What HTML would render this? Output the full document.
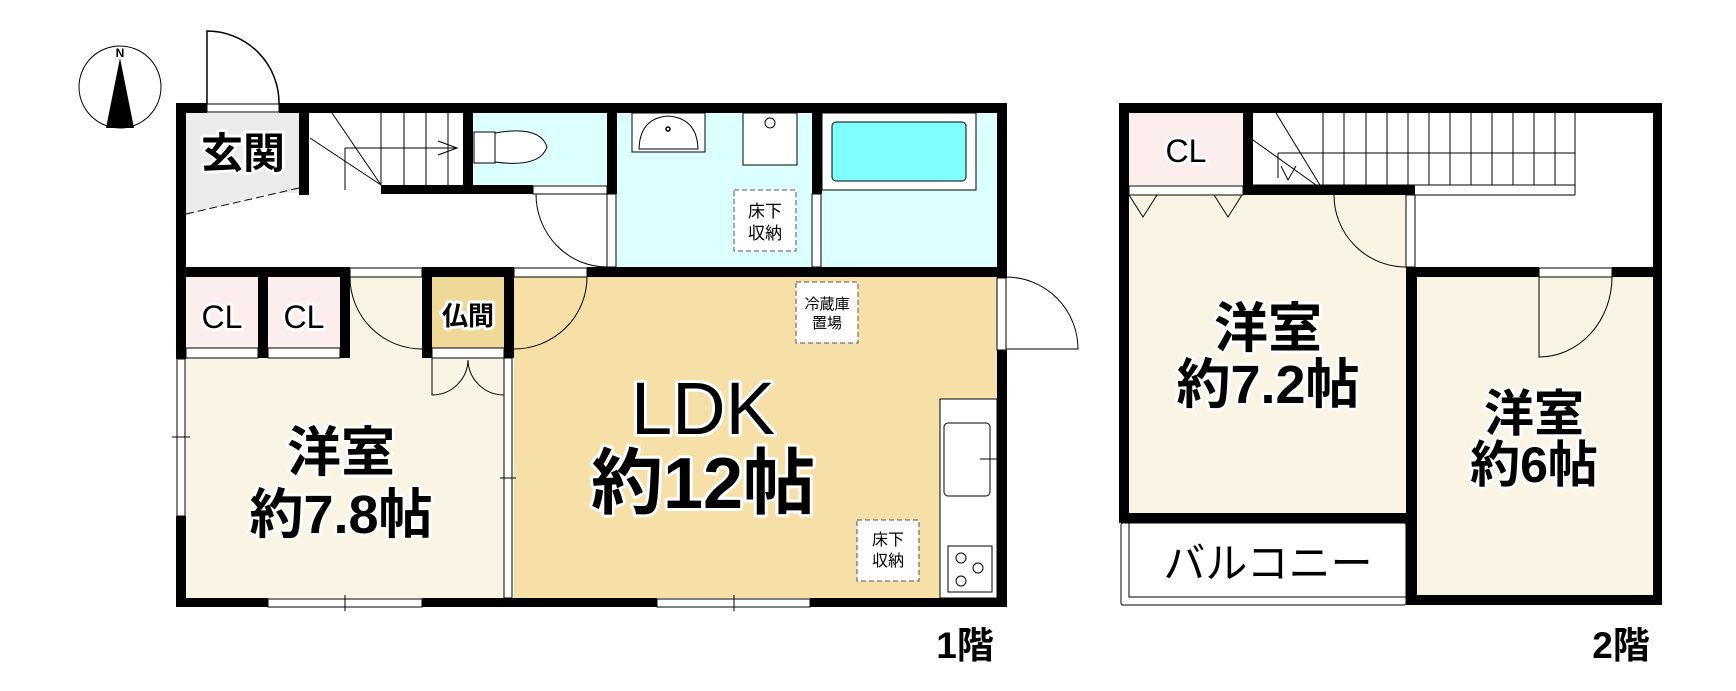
<!DOCTYPE html>
<html><head><meta charset="utf-8"><style>
html,body{margin:0;padding:0;background:#fff;}
svg{display:block;}
text{font-family:"Liberation Sans","Noto Sans CJK JP",sans-serif;}
.lb{fill:#000;stroke:#fff;stroke-width:6;paint-order:stroke;stroke-linejoin:round;}
.b{font-weight:bold;}
</style></head><body>
<svg width="1736" height="691" viewBox="0 0 1736 691" xmlns="http://www.w3.org/2000/svg">
<ellipse cx="120" cy="87" rx="41" ry="41" fill="none" stroke="#000" stroke-width="1"/>
<polygon points="120,58 106,128 134,128" fill="#000"/>
<text x="120" y="57" font-size="12" font-weight="bold" text-anchor="middle" font-family="Liberation Serif">N</text>
<path d="M207,104 L207,31 A72,72 0 0 1 279,104" fill="none" stroke="#000" stroke-width="1.5"/>

<rect x="186" y="113" width="113" height="80" fill="#ebebeb"/>
<polygon points="186,193 299,193 299,186 186,214" fill="#ebebeb"/>
<rect x="473" y="113" width="134" height="72" fill="#dcffff"/>
<rect x="617" y="113" width="195" height="154" fill="#dcffff"/>
<rect x="822" y="113" width="175" height="154" fill="#dcffff"/>
<rect x="186" y="277" width="72" height="71" fill="#fdeeee"/>
<rect x="268" y="277" width="72" height="71" fill="#fdeeee"/>
<rect x="432" y="277" width="72" height="71" fill="#f0d998"/>
<rect x="186" y="358" width="322" height="240" fill="#faf4e4"/>
<rect x="350" y="277" width="72" height="81" fill="#faf4e4"/>
<rect x="514" y="277" width="483" height="321" fill="#f6e0a8"/>
<line x1="186" y1="214" x2="299" y2="188" stroke="#000" stroke-width="1" stroke-dasharray="8,4"/>
<g stroke="#000" stroke-width="1" fill="none">
<line x1="381" y1="113" x2="381" y2="185"/><line x1="404" y1="113" x2="404" y2="185"/>
<line x1="426" y1="113" x2="426" y2="185"/><line x1="448" y1="113" x2="448" y2="185"/>
<line x1="345" y1="148" x2="458" y2="148"/><line x1="345" y1="148" x2="345" y2="190"/>
<line x1="310" y1="138" x2="381" y2="185"/><line x1="332" y1="113" x2="381" y2="185"/>
<polyline points="438,141 457,148 438,155"/>
</g>
<rect x="474" y="132" width="21" height="31" fill="#fff" stroke="#000"/>
<path d="M495,133 Q540,125 547,147 Q540,168 495,162 Z" fill="#fff" stroke="#000"/>
<rect x="632" y="113" width="73" height="39" fill="#fff" stroke="#000"/>
<path d="M639,149 Q640,118 668,116 Q697,118 698,149 Z" fill="#fff" stroke="#000"/>
<circle cx="668" cy="129" r="2" fill="none" stroke="#000" stroke-width="1.5"/>
<rect x="743" y="113" width="54" height="52" fill="#fff" stroke="#000"/>
<circle cx="770" cy="123" r="5" fill="#fff" stroke="#000"/>
<rect x="822" y="113" width="154" height="77" fill="#fff" stroke="#000"/>
<rect x="832" y="122" width="134" height="59" rx="4" fill="#80ffff" stroke="#000"/>
<rect x="734" y="190" width="62" height="61" fill="#fff" stroke="#555" stroke-dasharray="5,3"/>
<text x="765" y="217" font-size="17" text-anchor="middle">床下</text>
<text x="765" y="239" font-size="17" text-anchor="middle">収納</text>
<rect x="796" y="282" width="62" height="61" fill="#fff" stroke="#555" stroke-dasharray="5,3"/>
<text x="827" y="309" font-size="15" text-anchor="middle">冷蔵庫</text>
<text x="827" y="328" font-size="15" text-anchor="middle">置場</text>
<rect x="857" y="520" width="62" height="61" fill="#fff" stroke="#555" stroke-dasharray="5,3"/>
<text x="888" y="545" font-size="16" text-anchor="middle">床下</text>
<text x="888" y="566" font-size="16" text-anchor="middle">収納</text>
<rect x="940" y="399" width="57" height="199" fill="#fff" stroke="#000"/>
<rect x="944" y="423" width="46" height="73" rx="4" fill="#fff" stroke="#000"/>
<line x1="980" y1="459" x2="997" y2="459" stroke="#000"/>
<rect x="948" y="546" width="44" height="46" fill="#fff" stroke="#000"/>
<circle cx="961" cy="558" r="5" fill="none" stroke="#000"/><circle cx="978" cy="568" r="5" fill="none" stroke="#000"/><circle cx="961" cy="581" r="5" fill="none" stroke="#000"/>
<g fill="none" stroke="#000" stroke-width="1">
<path d="M536,194 A71,73 0 0 0 607,267"/>
<path d="M350,277 A72,72 0 0 0 422,349"/>
<path d="M587,277 A73,72 0 0 1 514,349"/>
<path d="M1006,277 A72,72 0 0 1 1078,349 L1006,349"/>
<path d="M432,358 L432,395 A36,36 0 0 0 468,360 A36,36 0 0 0 504,395"/>
</g>
<g fill="#fff" stroke="#000" stroke-width="1">
<rect x="207" y="104" width="72" height="8"/>
<rect x="533" y="186" width="74" height="8"/>
<rect x="607" y="194" width="9" height="73"/>
<rect x="812" y="194" width="9" height="73"/>
<rect x="350" y="268" width="72" height="9"/>
<rect x="514" y="268" width="73" height="9"/>
<rect x="186" y="348" width="72" height="10"/>
<rect x="268" y="348" width="72" height="10"/>
<rect x="432" y="348" width="72" height="10"/>
<rect x="997" y="278" width="9" height="72"/>
<rect x="177" y="359" width="8" height="157"/>
<rect x="504" y="358" width="8" height="240"/>
<rect x="268" y="599" width="154" height="8"/>
<rect x="657" y="599" width="153" height="8"/>
</g>
<g stroke="#000" stroke-width="1"><line x1="345" y1="595" x2="345" y2="611"/><line x1="734" y1="595" x2="734" y2="611"/><line x1="172" y1="437" x2="190" y2="437"/><line x1="500" y1="478" x2="516" y2="478"/></g>
<g fill="#000">
<rect x="176" y="103" width="31" height="10"/><rect x="279" y="103" width="728" height="10"/>
<rect x="176" y="103" width="10" height="256"/><rect x="176" y="516" width="10" height="91"/>
<rect x="997" y="103" width="10" height="175"/><rect x="997" y="350" width="10" height="257"/>
<rect x="176" y="598" width="92" height="9"/><rect x="422" y="598" width="235" height="9"/><rect x="810" y="598" width="197" height="9"/>
<rect x="299" y="113" width="10" height="82"/>
<rect x="381" y="185" width="152" height="9"/>
<rect x="463" y="113" width="10" height="80"/>
<rect x="607" y="113" width="10" height="81"/>
<rect x="812" y="113" width="10" height="81"/>
<rect x="176" y="267" width="174" height="10"/><rect x="422" y="267" width="92" height="10"/><rect x="587" y="267" width="420" height="10"/>
<rect x="258" y="277" width="10" height="81"/><rect x="340" y="277" width="10" height="81"/>
<rect x="422" y="277" width="10" height="81"/><rect x="504" y="277" width="10" height="81"/>
</g>
<text x="243" y="168" font-size="42" text-anchor="middle" class="lb b">玄関</text>
<text x="222" y="328" font-size="32" text-anchor="middle" class="lb">CL</text>
<text x="304" y="328" font-size="32" text-anchor="middle" class="lb">CL</text>
<text x="468" y="325" font-size="26" text-anchor="middle" class="lb b">仏間</text>
<text x="341" y="471" font-size="54" text-anchor="middle" class="lb b">洋室</text>
<text x="341" y="533" font-size="54" text-anchor="middle" class="lb b">約7.8帖</text>
<text x="703" y="434" font-size="74" text-anchor="middle" class="lb">LDK</text>
<text x="703" y="508" font-size="72" text-anchor="middle" class="lb b">約12帖</text>
<text x="965" y="658" font-size="37" text-anchor="middle" class="b">1階</text>

<rect x="1129" y="113" width="114" height="72" fill="#fdeeee"/>
<rect x="1129" y="195" width="277" height="318" fill="#faf4e4"/>
<rect x="1129" y="186" width="114" height="9" fill="#faf4e4"/>
<rect x="1417" y="277" width="236" height="318" fill="#faf4e4"/>
<g stroke="#000" stroke-width="1" fill="none">
<line x1="1253" y1="185" x2="1575" y2="185"/>
<line x1="1278" y1="153" x2="1575" y2="153"/>
<line x1="1575" y1="113" x2="1575" y2="195"/>
<line x1="1415" y1="195" x2="1575" y2="195"/>
<line x1="1278" y1="153" x2="1278" y2="178"/>
<polyline points="1281,166 1288,180 1296,166"/>
<line x1="1253" y1="140" x2="1323" y2="190"/><line x1="1276" y1="113" x2="1323" y2="190"/>
</g>
<g stroke="#000" stroke-width="1">
<line x1="1323" y1="113" x2="1323" y2="185"/><line x1="1344" y1="113" x2="1344" y2="185"/><line x1="1366" y1="113" x2="1366" y2="185"/><line x1="1387" y1="113" x2="1387" y2="185"/><line x1="1408" y1="113" x2="1408" y2="185"/><line x1="1429" y1="113" x2="1429" y2="185"/><line x1="1450" y1="113" x2="1450" y2="185"/><line x1="1471" y1="113" x2="1471" y2="185"/><line x1="1492" y1="113" x2="1492" y2="185"/><line x1="1513" y1="113" x2="1513" y2="185"/><line x1="1534" y1="113" x2="1534" y2="185"/><line x1="1555" y1="113" x2="1555" y2="185"/>
</g>
<g fill="none" stroke="#000" stroke-width="1">
<polyline points="1129,195 1143,217 1157,195"/>
<polyline points="1214,195 1228,217 1242,195"/>
<path d="M1334,195 A72,72 0 0 0 1406,267"/>
<path d="M1539,277 L1539,357 A73,80 0 0 0 1612,277"/>
<rect x="1121" y="523" width="285" height="82" rx="2"/>
<rect x="1129" y="523" width="277" height="74"/>
</g>
<g fill="#fff" stroke="#000" stroke-width="1">
<rect x="1129" y="186" width="114" height="9"/>
<rect x="1406" y="195" width="9" height="72"/>
<rect x="1539" y="268" width="73" height="9"/>
</g>
<g fill="#000">
<rect x="1119" y="103" width="543" height="10"/>
<rect x="1119" y="103" width="10" height="420"/>
<rect x="1653" y="103" width="9" height="502"/>
<rect x="1243" y="103" width="10" height="92"/>
<rect x="1243" y="185" width="172" height="10"/>
<rect x="1406" y="267" width="133" height="10"/><rect x="1612" y="267" width="50" height="10"/>
<rect x="1406" y="267" width="11" height="338"/>
<rect x="1119" y="513" width="298" height="10"/>
<rect x="1406" y="595" width="256" height="10"/>
</g>
<text x="1186" y="162" font-size="32" text-anchor="middle" class="lb">CL</text>
<text x="1268" y="347" font-size="54" text-anchor="middle" class="lb b">洋室</text>
<text x="1268" y="403" font-size="54" text-anchor="middle" class="lb b">約7.2帖</text>
<text x="1534" y="431" font-size="50" text-anchor="middle" class="lb b">洋室</text>
<text x="1534" y="482" font-size="50" text-anchor="middle" class="lb b">約6帖</text>
<text x="1268" y="578" font-size="42" text-anchor="middle" class="lb">バルコニー</text>
<text x="1621" y="658" font-size="37" text-anchor="middle" class="b">2階</text>
</svg>
</body></html>
